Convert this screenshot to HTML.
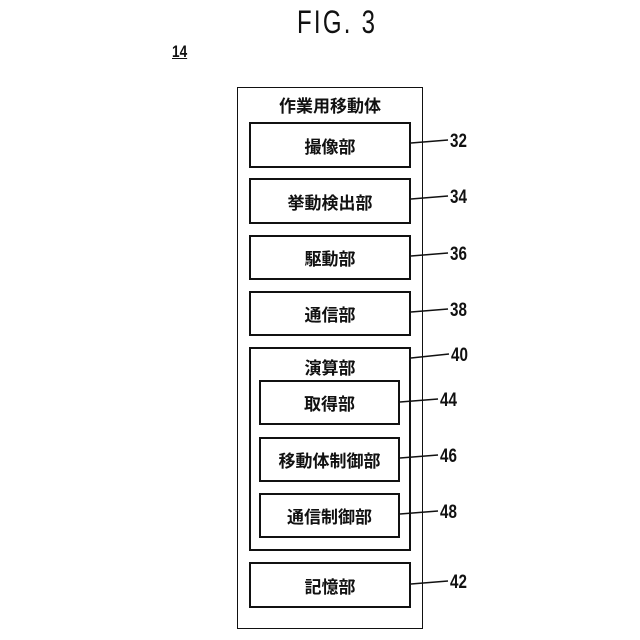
<!DOCTYPE html>
<html><head><style>
body{margin:0;background:#fff;}
.b{position:absolute;border:2px solid #111;box-sizing:border-box;display:flex;align-items:center;justify-content:center;font:bold 17px "Liberation Sans","Noto Sans CJK JP",sans-serif;color:#111;}
.t{position:absolute;font:bold 19px "Liberation Sans",sans-serif;color:#111;transform:scaleX(0.8);transform-origin:left center;}
</style></head><body>
<div style="position:relative;width:640px;height:640px;overflow:hidden">
<div class="t" style="left:297px;top:4px;font-size:32px;font-weight:normal;transform:scaleX(0.75);letter-spacing:3px">FIG. 3</div>
<div class="t" style="left:172px;top:42px;font-size:17px;text-decoration:underline">14</div>
<div class="b" style="left:237px;top:87px;width:186px;height:542px;align-items:flex-start;padding-top:4px;border-width:1.5px">作業用移動体</div>
<div class="b" style="left:249px;top:122px;width:162px;height:46px">撮像部</div>
<div class="b" style="left:249px;top:178px;width:162px;height:46px">挙動検出部</div>
<div class="b" style="left:249px;top:235px;width:162px;height:45px">駆動部</div>
<div class="b" style="left:249px;top:291px;width:162px;height:45px">通信部</div>
<div class="b" style="left:249px;top:347px;width:162px;height:204px;align-items:flex-start;padding-top:5px">演算部</div>
<div class="b" style="left:259px;top:380px;width:141px;height:45px">取得部</div>
<div class="b" style="left:259px;top:437px;width:141px;height:45px">移動体制御部</div>
<div class="b" style="left:259px;top:493px;width:141px;height:45px">通信制御部</div>
<div class="b" style="left:249px;top:562px;width:162px;height:46px">記憶部</div>
<svg width="640" height="640" style="position:absolute;left:0;top:0" stroke="#111" stroke-width="1.5">
<line x1="411" y1="143" x2="448" y2="140"/>
<line x1="411" y1="199" x2="448" y2="196"/>
<line x1="411" y1="256" x2="448" y2="253"/>
<line x1="411" y1="312" x2="448" y2="309"/>
<line x1="411" y1="358" x2="449" y2="354"/>
<line x1="400" y1="402" x2="438" y2="399"/>
<line x1="400" y1="458" x2="438" y2="455"/>
<line x1="400" y1="514" x2="438" y2="511"/>
<line x1="411" y1="584" x2="448" y2="581"/>
</svg>
<div class="t" style="left:450px;top:131px">32</div>
<div class="t" style="left:450px;top:187px">34</div>
<div class="t" style="left:450px;top:244px">36</div>
<div class="t" style="left:450px;top:300px">38</div>
<div class="t" style="left:451px;top:345px">40</div>
<div class="t" style="left:440px;top:390px">44</div>
<div class="t" style="left:440px;top:446px">46</div>
<div class="t" style="left:440px;top:502px">48</div>
<div class="t" style="left:450px;top:572px">42</div>
</div>
</body></html>
